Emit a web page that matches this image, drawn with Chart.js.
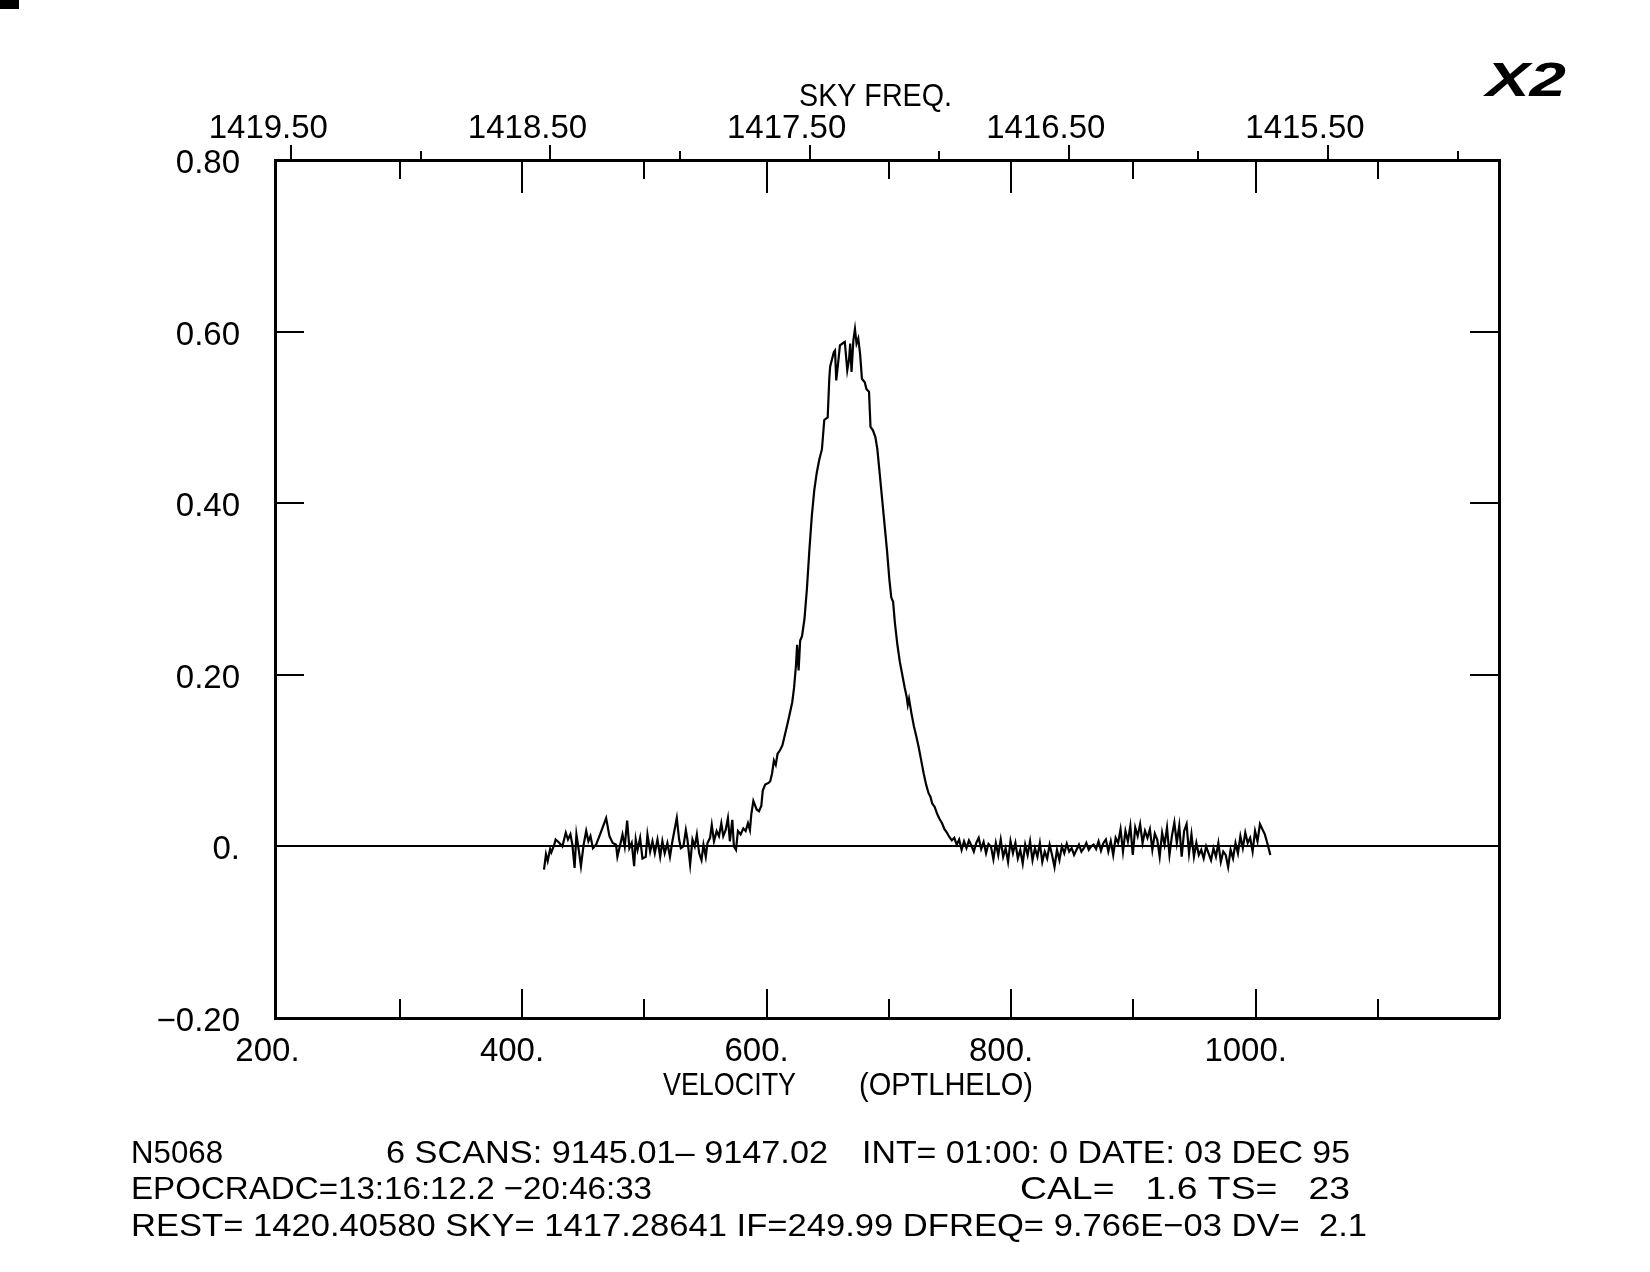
<!DOCTYPE html>
<html>
<head>
<meta charset="utf-8">
<script src="https://cdn.jsdelivr.net/npm/chart.js@4.4.1/dist/chart.umd.min.js"></script>
<style>
  html, body { margin: 0; padding: 0; background: #fff; }
  canvas { display: block; }
</style>
</head>
<body>
<canvas id="spectrum" width="1650" height="1272"></canvas>
<script>
// HI spectrum of N5068, velocity (km/s, optical heliocentric) vs. flux
const velocity = [
  418, 419.6, 421, 423, 424, 426.4, 427.5, 430.6, 433, 435.8, 437.6, 439.6, 441.2, 443, 444.5,
  446.4, 448.2, 450.4, 452.5, 454.3, 456, 458, 460.6, 463.3, 465.9, 468.8, 471.5, 474.2, 476.9,
  478, 480.3, 482.2, 484, 486, 487.8, 489.7, 491.7, 493, 494.5, 496.6, 498.5, 501.2, 502.6,
  504.8, 506.7, 508.6, 510.8, 513, 514.8, 516.7, 518.9, 521, 523, 526.6, 528.5, 529.9, 532,
  534, 535.3, 537.5, 539.4, 541.3, 543, 544.9, 546.8, 548.4, 550.3, 551.7, 553.8, 555.2, 557,
  559.2, 561.1, 563, 564.6, 566.5, 568.4, 570, 572, 573.3, 575, 576.6, 578.8, 581, 582.9,
  584.8, 586.4, 587.5, 589.2, 591.9, 593.8, 595.7, 596.9, 598.9, 601.6, 603,
  604.5, 606, 607.5, 609, 611, 613, 615, 617, 619, 621, 622.5, 624, 625, 626.2, 627.5, 629,
  631, 633, 635, 637, 639, 641, 643, 645.3, 647.2, 650, 651.3, 652, 653, 655, 656, 657,
  658.5, 660, 663, 664, 666, 667.5, 668.4, 669.5, 671, 672.3, 673.6, 675, 676.5, 678, 680.3,
  681.7, 683.8, 685, 687, 689, 690.6,
  692.5, 694.5, 696.5, 698.5, 700.5, 702, 703.5, 705, 707, 709, 711, 713, 714.5, 715.5, 716.5,
  718.5, 720.5, 722.5, 724.5, 726.5, 728.5, 730.5, 732.5, 734, 735.5, 737.5, 739.5, 741.5,
  743.5, 745.5, 747.5, 749.5, 751.5, 753.5, 755.5,
  757.5, 759.5, 761.5, 763.5, 765.5, 767.5, 769.5, 771.5, 773.5, 775.5, 777.5, 779.5, 781.5,
  783.5, 785.5, 787.5, 789.5, 791.5, 793.5, 795.5, 797.5, 799.5, 801.5, 803.5, 805.5, 807.5,
  809.5, 811.5, 813.5, 815.5, 817.5, 819.5, 821.5, 823.5, 825.5, 827.5, 829.5, 831.5, 833.5,
  835.5, 837.5, 839.5, 841.5, 843.5, 845.5, 847.5, 849.5, 851.5, 853.5, 855.5, 857.5, 859.5,
  861.5, 863.5, 865.5, 867.5, 869.5, 871.5, 873.5, 875.5, 877.5, 879.5, 881.5, 883.5, 885.5,
  887.5, 889.5, 891.5, 893.5, 895.5, 897.5, 899.5, 901.5, 903.5, 905.5, 907.5, 909.5, 911.5,
  913.5, 915.5, 917.5, 919.5, 921.5, 923.5, 925.5, 927.5, 929.5, 931.5, 933.5, 935.5, 937.5,
  939.5, 941.5, 943.5, 945.5, 947.5, 949.5, 951.5, 953.5, 955.5, 957.5, 959.5, 961.5, 963.5,
  965.5, 967.5, 969.5, 971.5, 973.5, 975.5, 977.5, 979.5, 981.5, 983.5, 985.5, 987.5, 989.5,
  991.5, 993.5, 995.5, 997.5, 999.5, 1001.5, 1003.5, 1005.5, 1007.5, 1009.5, 1012
];

const flux = [
  -0.027, -0.009, -0.017, -0.003, -0.007, 0.002, 0.008, 0.004, 0.000, 0.016, 0.008, 0.014, 0.002, -0.025, 0.014,
  -0.004, -0.023, 0.002, 0.018, 0.006, 0.012, -0.002, 0.002, 0.012, 0.022, 0.033, 0.012, 0.004, 0.002,
  -0.012, 0.002, 0.014, 0.000, 0.030, -0.002, 0.004, -0.023, 0.008, -0.004, 0.010, -0.014, -0.012, 0.014,
  -0.006, 0.006, -0.008, 0.008, -0.012, 0.006, -0.008, 0.004, -0.012, 0.006, 0.033, 0.008, -0.002, 0.000,
  0.019, 0.008, -0.021, 0.008, 0.000, 0.014, -0.008, -0.016, 0.002, -0.012, 0.004, 0.010, 0.025, 0.006,
  0.018, 0.012, 0.027, 0.012, 0.019, 0.033, 0.006, 0.031, 0.000, -0.004, 0.018, 0.014, 0.021, 0.018,
  0.027, 0.019, 0.037, 0.053, 0.043, 0.041, 0.047, 0.065, 0.072, 0.074, 0.076,
  0.085, 0.100, 0.095, 0.108, 0.112, 0.118, 0.130, 0.142, 0.155, 0.168, 0.185, 0.210, 0.235, 0.205, 0.240, 0.245,
  0.265, 0.300, 0.345, 0.385, 0.415, 0.435, 0.450, 0.463, 0.497, 0.500, 0.545, 0.559, 0.565, 0.576, 0.578, 0.543,
  0.563, 0.584, 0.587, 0.588, 0.555, 0.568, 0.586, 0.553, 0.590, 0.603, 0.586, 0.592, 0.574, 0.545, 0.541,
  0.533, 0.530, 0.489, 0.485, 0.477, 0.463,
  0.435, 0.405, 0.375, 0.345, 0.310, 0.290, 0.285, 0.260, 0.235, 0.215, 0.200, 0.185, 0.175, 0.165, 0.172,
  0.155, 0.140, 0.128, 0.115, 0.100, 0.085, 0.072, 0.062, 0.058, 0.050, 0.046, 0.038, 0.032,
  0.027, 0.020, 0.016, 0.011, 0.007, 0.010, 0.002,
  0.008, -0.004, 0.006, -0.002, 0.007, 0.001, -0.006, 0.004, 0.010, -0.003, 0.005, -0.008, 0.003,
  0.000, -0.015, 0.004, -0.010, 0.008, -0.012, -0.002, -0.018, 0.006, -0.008, 0.004, -0.014, -0.004,
  -0.020, 0.002, -0.010, 0.006, -0.016, -0.002, -0.012, 0.004, -0.018, -0.006, -0.014, 0.002, -0.010,
  -0.024, -0.004, -0.016, 0.000, -0.008, 0.003, -0.006, -0.002, -0.010, -0.004, 0.002, -0.006, -0.002,
  0.004, -0.004, 0.000, 0.002, -0.003, 0.006, -0.005, 0.004, 0.008, -0.006, 0.006, -0.010, 0.010,
  0.004, 0.020, -0.006, 0.018, 0.006, 0.024, -0.010, 0.022, 0.012, 0.026, 0.004, 0.018, 0.010,
  0.020, -0.004, 0.015, 0.008, -0.012, 0.016, 0.002, 0.022, -0.010, 0.012, 0.028, 0.004, 0.024,
  -0.012, 0.018, 0.026, -0.008, 0.014, -0.012, 0.004, -0.010, -0.004, -0.014, 0.000, -0.008, -0.016,
  -0.002, -0.012, 0.004, -0.018, -0.006, -0.010, -0.024, -0.004, -0.014, 0.004, -0.008, 0.012, -0.002,
  0.016, 0.004, 0.010, -0.006, 0.018, 0.006, 0.026, 0.020, 0.014, 0.004, -0.010
];

// axis ticks
const velLabelTicks = [200, 400, 600, 800, 1000];
const velMajorTicks = [400, 600, 800, 1000];
const velMinorTicks = [300, 500, 700, 900, 1100];
const freqMajorTicks = [1419.5, 1418.5, 1417.5, 1416.5, 1415.5];
const freqMinorTicks = [1419.0, 1418.0, 1417.0, 1416.0, 1415.0];
const fluxLabelTicks = [-0.2, 0, 0.2, 0.4, 0.6, 0.8];
const fluxInnerTicks = [0.2, 0.4, 0.6];

// header / footer texts
const topTitle = "SKY FREQ.";
const bottomTitle = ["VELOCITY", "(OPTLHELO)"];
const footerText = [
  "N5068",
  "6 SCANS: 9145.01\u2013 9147.02",
  "INT= 01:00: 0 DATE: 03 DEC 95",
  "EPOCRADC=13:16:12.2 \u221220:46:33",
  "CAL=   1.6 TS=   23",
  "REST= 1420.40580 SKY= 1417.28641 IF=249.99 DFREQ= 9.766E\u221203 DV=  2.1",
];
// left, width, y (centre) for each footer piece
const footerLayout = [
  [131, 92, 1154], [386, 442, 1154], [862, 488, 1154],
  [131, 521, 1190], [1020, 330, 1190],
  [131, 1236, 1227],
];

const FONT = '"Liberation Sans", Arial, sans-serif';

const fitText = (ctx, text, left, y, width) => {
  const w = ctx.measureText(text).width;
  ctx.save();
  ctx.translate(left, y);
  ctx.scale(width / w, 1);
  ctx.textAlign = "left";
  ctx.textBaseline = "middle";
  ctx.fillText(text, 0, 0);
  ctx.restore();
};

const decorations = {
  id: "decorations",
  afterDraw(chart) {
    const { ctx, chartArea: a, scales } = chart;
    const x = scales.x, xt = scales.xTop, y = scales.y;
    ctx.save();
    ctx.strokeStyle = "#000";
    ctx.fillStyle = "#000";
    ctx.lineWidth = 2;
    const line = (x1, y1, x2, y2) => {
      ctx.beginPath();
      ctx.moveTo(x1, y1);
      ctx.lineTo(x2, y2);
      ctx.stroke();
    };
    // velocity ticks, inside bottom and top edges
    velMajorTicks.forEach((v) => {
      const px = Math.round(x.getPixelForValue(v));
      line(px, a.bottom, px, a.bottom - 29);
      line(px, a.top, px, a.top + 33);
    });
    velMinorTicks.forEach((v) => {
      const px = Math.round(x.getPixelForValue(v));
      line(px, a.bottom, px, a.bottom - 19);
      line(px, a.top, px, a.top + 19);
    });
    // frequency ticks, outside top edge
    freqMajorTicks.forEach((f) => {
      const px = Math.round(xt.getPixelForValue(f));
      line(px, a.top, px, a.top - 15);
    });
    freqMinorTicks.forEach((f) => {
      const px = Math.round(xt.getPixelForValue(f));
      line(px, a.top, px, a.top - 9);
    });
    // flux ticks, inside left and right edges
    fluxInnerTicks.forEach((f) => {
      const py = Math.round(y.getPixelForValue(f));
      line(a.left, py, a.left + 29, py);
      line(a.right, py, a.right - 29, py);
    });

    // titles and footer
    ctx.font = "32px " + FONT;
    fitText(ctx, topTitle, 799, 97, 153);
    fitText(ctx, bottomTitle[0], 663, 1086, 133);
    fitText(ctx, bottomTitle[1], 859, 1086, 174);
    footerText.forEach((t, i) => {
      const [left, width, cy] = footerLayout[i];
      fitText(ctx, t, left, cy, width);
    });

    // handwritten scale mark and the scanner mark in the corner
    ctx.font = "italic bold 48px " + FONT;
    fitText(ctx, "X2", 1486, 83, 80);
    ctx.fillRect(0, 0, 19, 9);
    ctx.restore();
  },
};

const tickFont = { family: FONT, size: 33 };

new Chart(document.getElementById("spectrum"), {
  type: "line",
  data: {
    datasets: [
      {
        data: velocity.map((v, i) => ({ x: v, y: flux[i] })),
        borderColor: "#000",
        borderWidth: 2.2,
        pointRadius: 0,
        tension: 0,
        fill: false,
      },
    ],
  },
  options: {
    responsive: false,
    devicePixelRatio: 1,
    animation: false,
    layout: { padding: { left: 0, right: 151, top: 0, bottom: 0 } },
    plugins: { legend: { display: false }, tooltip: { enabled: false } },
    scales: {
      x: {
        type: "linear",
        position: "bottom",
        min: 198,
        max: 1199,
        afterBuildTicks: (s) => { s.ticks = velLabelTicks.map((value) => ({ value })); },
        afterFit: (s) => { s.height = 254; },
        grid: { display: false, drawTicks: false },
        border: { display: true, color: "#000", width: 3 },
        ticks: {
          color: "#000",
          font: tickFont,
          padding: 14,
          labelOffset: -10,
          maxRotation: 0,
          autoSkip: false,
          callback: (v) => v + ".",
        },
      },
      xTop: {
        type: "linear",
        position: "top",
        reverse: true,
        min: 1414.84,
        max: 1419.563,
        afterBuildTicks: (s) => { s.ticks = freqMajorTicks.map((value) => ({ value })); },
        afterFit: (s) => { s.height = 160; },
        grid: { display: false, drawTicks: false },
        border: { display: true, color: "#000", width: 3 },
        ticks: {
          color: "#000",
          font: tickFont,
          padding: 11,
          labelOffset: -23,
          maxRotation: 0,
          autoSkip: false,
          callback: (v) => v.toFixed(2),
        },
      },
      y: {
        type: "linear",
        position: "left",
        min: -0.2,
        max: 0.8,
        afterBuildTicks: (s) => { s.ticks = fluxLabelTicks.map((value) => ({ value })); },
        afterFit: (s) => { s.width = 275; },
        grid: {
          drawTicks: false,
          lineWidth: 2,
          color: (c) => (c.tick && Math.abs(c.tick.value) < 1e-9 ? "#000" : "rgba(0,0,0,0)"),
        },
        border: { display: true, color: "#000", width: 3 },
        ticks: {
          color: "#000",
          font: tickFont,
          padding: 35,
          labelOffset: 4,
          autoSkip: false,
          callback: (v) => {
            const r = Math.round(v * 100) / 100;
            if (r === 0) return "0.";
            return (r < 0 ? "\u2212" : "") + Math.abs(r).toFixed(2);
          },
        },
      },
      yRight: {
        type: "linear",
        position: "right",
        min: -0.2,
        max: 0.8,
        afterFit: (s) => { s.width = 0; },
        grid: { display: false, drawTicks: false },
        border: { display: true, color: "#000", width: 3 },
        ticks: { display: false },
      },
    },
  },
  plugins: [decorations],
});
</script>
</body>
</html>
